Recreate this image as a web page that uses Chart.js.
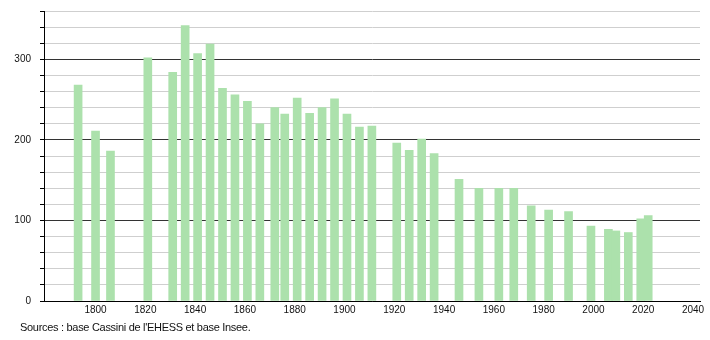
<!DOCTYPE html>
<html>
<head>
<meta charset="utf-8">
<script src="https://cdn.jsdelivr.net/npm/chart.js@4"></script>
<style>
  body { margin: 0; background: #fff; }
  #wrap { position: relative; width: 710px; height: 340px; }
  #src {
    position: absolute; left: 20px; top: 321px;
    font: 11px "Liberation Sans", Arial, sans-serif; color: #111;
    letter-spacing: -0.3px;
  }
</style>
</head>
<body>
<div id="wrap">
  <canvas id="chart" width="710" height="340"></canvas>
  <div id="src">Sources : base Cassini de l'EHESS et base Insee.</div>
</div>
<script>
/* ── Data ──────────────────────────────────────────────────── */
const years = [
  1793, 1800, 1806, 1821, 1831, 1836, 1841, 1846, 1851, 1856,
  1861, 1866, 1872, 1876, 1881, 1886, 1891, 1896, 1901, 1906,
  1911, 1921, 1926, 1931, 1936, 1946, 1954, 1962, 1968, 1975,
  1982, 1990, 1999, 2006, 2009, 2014, 2019, 2022,
];
const population = [
  268, 211, 186, 302, 284, 342, 307, 319, 264, 256,
  248, 220, 240, 232, 252, 233, 240, 251, 232, 216,
  217, 196, 187, 201, 183, 151, 140, 140, 140, 118,
  113, 111, 93, 89, 87, 85, 102, 106,
];
const yearTicks = [1800, 1820, 1840, 1860, 1880, 1900, 1920, 1940, 1960, 1980, 2000, 2020, 2040];
const popTicks = [0, 100, 200, 300];

/* ── Theme ─────────────────────────────────────────────────── */
const theme = {
  bar:       'rgb(172, 225, 172)',
  gridMinor: '#cfcfcf',
  gridMajor: '#333333',
  axis:      '#000000',
  text:      '#111111',
  font:      "'Liberation Sans', Arial, sans-serif",
};

const points = years.map((y, i) => ({ x: y, y: population[i] }));

new Chart(document.getElementById('chart'), {
  type: 'bar',
  data: {
    datasets: [{
      data: points,
      backgroundColor: theme.bar,
      borderWidth: 0,
      barThickness: 8,
    }],
  },
  options: {
    responsive: false,
    animation: false,
    layout: { padding: { top: 11, right: 10, left: 0, bottom: 0 } },
    plugins: { legend: { display: false }, tooltip: { enabled: false } },
    scales: {
      x: {
        type: 'linear',
        offset: false,
        min: 1779.3,
        max: 2042.8,
        afterFit: (s) => { s.height = 39; s.paddingLeft = 0; s.paddingRight = 0; },
        afterBuildTicks: (s) => { s.ticks = yearTicks.map(v => ({ value: v })); },
        grid: { display: false, drawTicks: false, offset: false },
        border: { display: true, color: theme.axis, width: 1 },
        ticks: {
          autoSkip: false,
          maxRotation: 0,
          padding: 3,
          color: theme.text,
          font: { family: theme.font, size: 10 },
          callback: (v) => String(v),
        },
      },
      y: {
        min: 0,
        max: 360,
        afterFit: (s) => { s.width = 44; s.paddingTop = 0; s.paddingBottom = 0; },
        afterBuildTicks: (s) => {
          const t = [];
          for (let v = 0; v <= 360; v += 20) t.push({ value: v });
          s.ticks = t;
        },
        grid: {
          color: (c) => (c.tick && c.tick.value % 100 === 0 ? theme.gridMajor : theme.gridMinor),
          tickColor: theme.axis,
          tickLength: 4,
          lineWidth: 1,
        },
        border: { display: true, color: theme.axis, width: 1 },
        ticks: {
          autoSkip: false,
          padding: 9,
          color: theme.text,
          font: { family: theme.font, size: 10 },
          callback: (v) => (popTicks.includes(v) ? String(v) : ''),
        },
      },
    },
  },
});
</script>
</body>
</html>
